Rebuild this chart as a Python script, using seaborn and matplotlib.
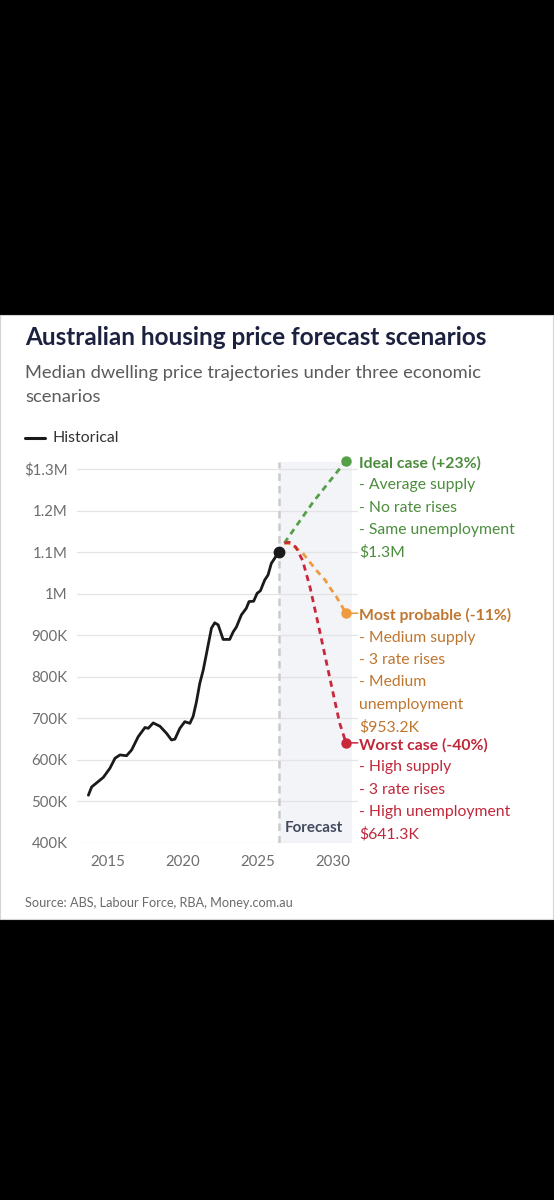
import matplotlib
matplotlib.use("Agg")
import matplotlib.pyplot as plt
import numpy as np
import pandas as pd
import seaborn as sns
from matplotlib.patches import Rectangle

# ---------------- data ----------------
hist_years = [2013.69, 2013.91, 2014.25, 2014.69, 2015.13, 2015.47, 2015.80, 2016.24,
              2016.58, 2017.02, 2017.47, 2017.69, 2018.02, 2018.47, 2018.91, 2019.24,
              2019.47, 2019.80, 2020.13, 2020.47, 2020.69, 2020.91, 2021.13, 2021.36,
              2021.58, 2021.91, 2022.13, 2022.36, 2022.69, 2023.13, 2023.36, 2023.58,
              2023.91, 2024.24, 2024.42, 2024.73, 2024.96, 2025.18, 2025.47, 2025.69,
              2025.91, 2026.13, 2026.40]
hist_prices = [515, 535, 545, 558, 580, 604, 612, 610,
               624, 656, 678, 676, 689, 681, 664, 648,
               650, 676, 692, 688, 705, 740, 784, 816,
               856, 917, 930, 925, 890, 890, 908, 920,
               949, 965, 981, 982, 1001, 1007, 1033, 1045,
               1073, 1085, 1100]  # $K

ideal_years = [2026.78, 2028.71, 2030.90]
ideal_prices = [1122, 1221, 1320]
probable_years = [2026.78, 2027.20, 2028.00, 2028.90, 2029.50, 2029.93, 2030.27, 2030.90]
probable_prices = [1122, 1120, 1098, 1057, 1033, 1009, 992, 953]
worst_years = [2026.78, 2027.10, 2027.55, 2028.00, 2028.50, 2029.13, 2029.80, 2030.47, 2030.90]
worst_prices = [1122, 1124, 1112, 1080, 1015, 912, 800, 689, 641]

forecast_start = 2026.4
forecast_end = 2031.3

y_ticks = [400, 500, 600, 700, 800, 900, 1000, 1100, 1200, 1300]
y_tick_labels = ["400K", "500K", "600K", "700K", "800K", "900K", "1M", "1.1M", "1.2M", "$1.3M"]
x_ticks = [2015, 2020, 2025, 2030]

ideal_lines = ["Ideal case (+23%)", "- Average supply", "- No rate rises", "- Same unemployment", "$1.3M"]
probable_lines = ["Most probable (-11%)", "- Medium supply", "- 3 rate rises", "- Medium", "unemployment", "$953.2K"]
worst_lines = ["Worst case (-40%)", "- High supply", "- 3 rate rises", "- High unemployment", "$641.3K"]

title = "Australian housing price forecast scenarios"
subtitle1 = "Median dwelling price trajectories under three economic"
subtitle2 = "scenarios"
source = "Source: ABS, Labour Force, RBA, Money.com.au"

# ---------------- style ----------------
sns.set_theme(style="white")
plt.rcParams["font.family"] = ["Lato", "DejaVu Sans"]
plt.rcParams["text.parse_math"] = False

W, H = 554, 1200
fig = plt.figure(figsize=(W / 100, H / 100), dpi=100)
fig.patch.set_facecolor("black")
renderer = fig.canvas.get_renderer()


def fitted_size(s, target_px, weight="normal", base=12.0):
    t = fig.text(0, 0, s, fontsize=base, fontweight=weight)
    w = t.get_window_extent(renderer).width
    t.remove()
    return base * target_px / w


def fx(px):
    return px / W


def fy(py):
    return (H - py) / H


# white card (behind axes)
fig.patches.append(Rectangle((0, fy(919)), fx(553), (919 - 315) / H, transform=fig.transFigure,
                             facecolor="white", edgecolor="#d4d4d4", lw=0.8, zorder=-5))

title_fs = fitted_size(title, 458, "bold")
sub_fs = fitted_size(subtitle1, 454)
tick_fs = fitted_size("900K", 36)
legend_fs = fitted_size("Historical", 66)
source_fs = fitted_size(source, 270)
ann_fs = fitted_size("- Same unemployment", 156)
forecast_fs = fitted_size("Forecast", 57.7, "bold")

fig.text(fx(25), fy(345), title, fontsize=title_fs, fontweight="bold", color="#1c2140", va="baseline")
fig.text(fx(25), fy(378), subtitle1, fontsize=sub_fs, color="#5b5b5b", va="baseline")
fig.text(fx(25), fy(402), subtitle2, fontsize=sub_fs, color="#5b5b5b", va="baseline")

# legend
fig.add_artist(plt.Line2D([fx(25), fx(45)], [fy(438), fy(438)], transform=fig.transFigure,
                          color="#1a1a1a", lw=2.2))
fig.text(fx(52), fy(438), "Historical", fontsize=legend_fs, color="#333333", va="center")

fig.text(fx(25), fy(903), source, fontsize=source_fs, color="#6b6b6b", va="center")

# ---------------- axes ----------------
ax = fig.add_axes([fx(77), fy(843), (358 - 77) / W, (843 - 462) / H])
ax.set_facecolor("white")
ax.set_zorder(1)
ax.set_xlim(2012.93, 2031.7)
ax.set_ylim(400, 1317)

ax.axvspan(forecast_start, forecast_end, color="#f3f4f8", zorder=0, lw=0)
for yt in y_ticks:
    ax.axhline(yt, color="#e4e4e4", lw=0.9, zorder=1)
ax.axvline(forecast_start, color="#cbcbcb", lw=1.8, ls=(0, (3.0, 2.0)), zorder=2)

hist_df = pd.DataFrame({"year": hist_years, "price": hist_prices})
sns.lineplot(data=hist_df, x="year", y="price", ax=ax, color="#1a1a1a", lw=2.0, zorder=5,
             estimator=None, sort=False)
ax.plot(hist_years[-1], hist_prices[-1], "o", color="#1a1a1a", ms=7.5, zorder=6)

scen = [
    (ideal_years, ideal_prices, "#55a047", "#4b8d3c", ideal_lines, False),
    (probable_years, probable_prices, "#ee9a3e", "#bf7630", probable_lines, True),
    (worst_years, worst_prices, "#c9283b", "#c0283a", worst_lines, True),
]
for yrs, prs, lc, tc, lines, leader in scen:
    df = pd.DataFrame({"year": yrs, "price": prs})
    sns.lineplot(data=df, x="year", y="price", ax=ax, color=lc, lw=2.0, zorder=4,
                 estimator=None, sort=False, linestyle=(0, (2.2, 1.7)))
    ax.plot(yrs[-1], prs[-1], "o", color=lc, ms=6.5, zorder=6, clip_on=False)
    if leader:
        ax.annotate("", xy=(yrs[-1], prs[-1]), xytext=(8.5, 0), textcoords="offset points",
                    arrowprops=dict(arrowstyle="-", color=lc, lw=1.1, shrinkA=0, shrinkB=3),
                    annotation_clip=False)
    for i, s in enumerate(lines):
        ax.annotate(s, xy=(yrs[-1], prs[-1]), xytext=(9.6, -1.5 - i * 16.1), textcoords="offset points",
                    ha="left", va="center", fontsize=ann_fs, color=tc,
                    fontweight="bold" if i == 0 else "normal", annotation_clip=False, zorder=7)

ax.annotate("Forecast", xy=(forecast_start, 0), xycoords=ax.get_xaxis_transform(),
            xytext=(4.2, 11), textcoords="offset points", ha="left", va="center",
            fontsize=forecast_fs, fontweight="bold", color="#434a5e", zorder=7)

ax.set_yticks(y_ticks)
ax.set_yticklabels(y_tick_labels)
ax.set_xticks(x_ticks)
ax.set_xticklabels([str(x) for x in x_ticks])
ax.tick_params(axis="both", length=0, labelsize=tick_fs, labelcolor="#6e6e6e")
ax.tick_params(axis="y", pad=6.8)
ax.tick_params(axis="x", pad=9)
ax.set_xlabel("")
ax.set_ylabel("")
for sp in ax.spines.values():
    sp.set_visible(False)
ax.grid(False)

fig.savefig("out.png", dpi=100, facecolor=fig.get_facecolor())
